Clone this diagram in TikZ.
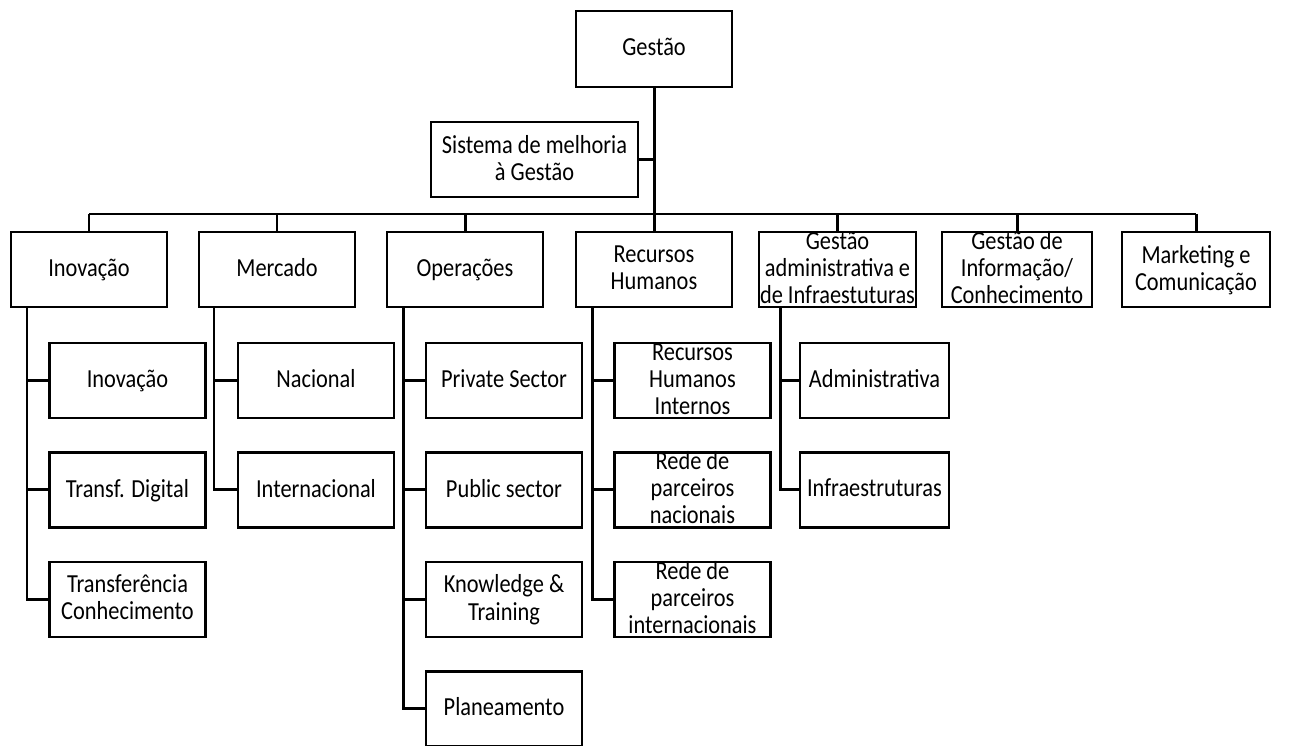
\documentclass[tikz,border=0pt]{standalone}
\usepackage{fontspec}
\setmainfont{Carlito}[FakeStretch=0.86]
\usetikzlibrary{positioning, calc}
\tikzset{
  orgbox/.style={
    rectangle, draw, line width=1.4pt,
    minimum width=#1, minimum height=1.5cm,
    inner sep=0.5pt, align=center, text depth=0.22em,
    font=\fontsize{14.8}{15.4}\selectfont
  },
  orgbox/.default=3.12cm,
  tall/.style={text height=40pt, text depth=1.3pt},
  link/.style={line width=1.7pt},
}

\begin{document}
\begin{tikzpicture}[x=0.02cm, y=-0.02cm]
\useasboundingbox (0,0) rectangle (1300,746);

%% ─── TOPO ──────────────────────────────────────────────────
\node[orgbox, minimum height=1.52cm] (gestao) at (654,49) {Gestão};
\node[orgbox=4.14cm] (sistema) at (534.5,159.5) {Sistema de melhoria\\à Gestão};

\coordinate (bus) at (0,214);

%% ─── ÁREAS ─────────────────────────────────────────────────
\node[orgbox] (inov) at (89,269.5) {Inovação};
\node[orgbox] (merc) at (277,269.5) {Mercado};
\node[orgbox] (oper) at (465,269.5) {Operações};
\node[orgbox] (rh) at (654,269.5) {Recursos\\Humanos};
\node[orgbox=2.98cm, tall] (gadm) at (837.5,269.5) {Gestão\\administrativa e\\de Infraestuturas};
\node[orgbox=3.0cm, tall] (ginf) at (1017,269.5) {Gestão de\\Informação/\\Conhecimento};
\node[orgbox=2.96cm] (mark) at (1196,269.5) {Marketing e\\Comunicação};

%% ─── SUB-ÁREAS ─────────────────────────────────────────────
%% Inovação
\node[orgbox] (inov1) at (127.5,380.5) {Inovação};
\node[orgbox, below=0.64cm of inov1] (inov2) {Transf. Digital};
\node[orgbox, below=0.64cm of inov2] (inov3) {Transferência\\Conhecimento};

%% Mercado
\node[orgbox] (merc1) at (316,380.5) {Nacional};
\node[orgbox, below=0.64cm of merc1] (merc2) {Internacional};

%% Operações
\node[orgbox] (oper1) at (504,380.5) {Private Sector};
\node[orgbox, below=0.64cm of oper1] (oper2) {Public sector};
\node[orgbox, below=0.64cm of oper2] (oper3) {Knowledge \&\\Training};
\node[orgbox, below=0.64cm of oper3] (oper4) {Planeamento};

%% Recursos Humanos
\node[orgbox, tall] (rh1) at (692.5,380.5) {Recursos\\Humanos\\Internos};
\node[orgbox, tall, below=0.64cm of rh1] (rh2) {Rede de\\parceiros\\nacionais};
\node[orgbox, tall, below=0.64cm of rh2] (rh3) {Rede de\\parceiros\\internacionais};

%% Gestão administrativa
\node[orgbox=2.98cm] (gadm1) at (874.5,380.5) {Administrativa};
\node[orgbox=2.98cm, below=0.64cm of gadm1] (gadm2) {Infraestruturas};

%% ─── LIGAÇÕES ──────────────────────────────────────────────
\draw[link] (gestao.south) -- (gestao.south |- bus);
\draw[link] (sistema.east) -- (sistema.east -| gestao.south);
\draw[link] (inov.north |- bus) -- (mark.north |- bus);
\foreach \area in {inov, merc, oper, rh, gadm, ginf, mark}{
  \draw[link] (\area.north |- bus) -- (\area.north);
}

\coordinate (sinov) at ($(inov.south)+(-62,0)$);
\coordinate (smerc) at ($(merc.south)+(-63,0)$);
\coordinate (soper) at ($(oper.south)+(-62,0)$);
\coordinate (srh) at ($(rh.south)+(-62,0)$);
\coordinate (sgadm) at ($(gadm.south)+(-57.5,0)$);

\foreach \spine/\sub in {sinov/inov1, sinov/inov2, sinov/inov3,
                         smerc/merc1, smerc/merc2,
                         soper/oper1, soper/oper2, soper/oper3, soper/oper4,
                         srh/rh1, srh/rh2, srh/rh3,
                         sgadm/gadm1, sgadm/gadm2}{
  \draw[link] (\spine) |- (\sub.west);
}

\end{tikzpicture}
\end{document}
